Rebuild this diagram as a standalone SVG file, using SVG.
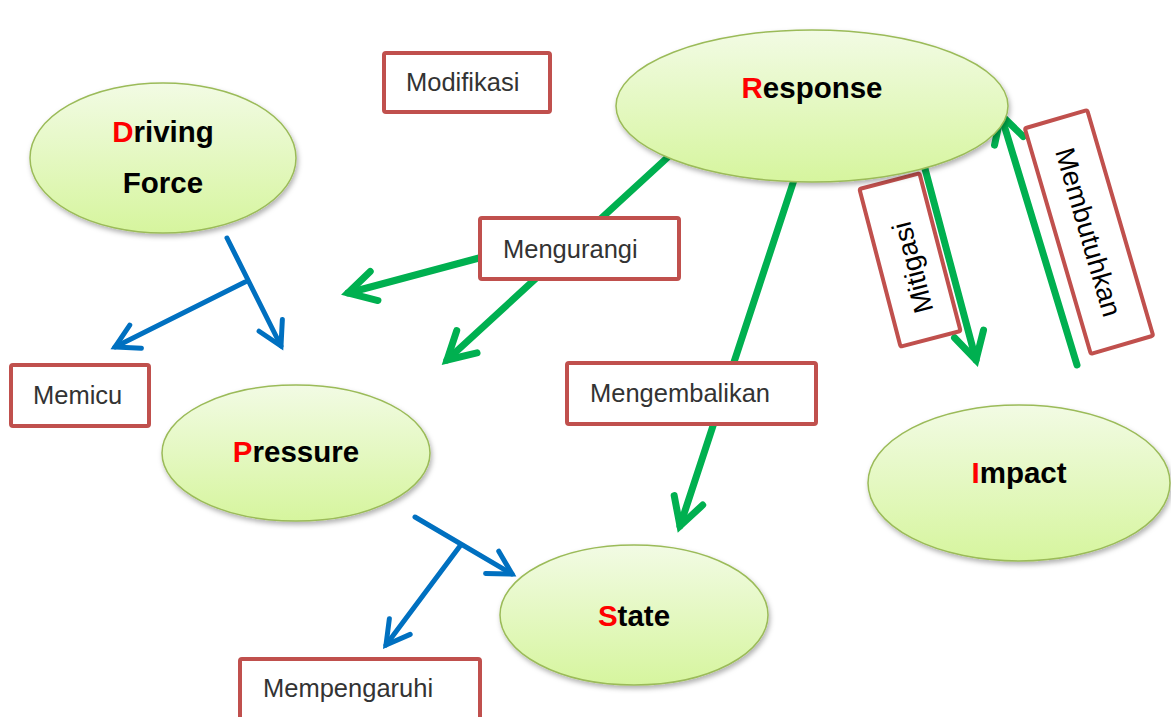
<svg xmlns="http://www.w3.org/2000/svg" width="1171" height="717" viewBox="0 0 1171 717">
<style>
.node{fill:url(#eg);stroke:#9BBB59;stroke-width:1.5;filter:url(#sh)}
.nt{font-family:"Liberation Sans",Arial,sans-serif;font-weight:bold;font-size:29.5px;fill:#000;text-anchor:middle}
.r{fill:#FF0000}
.box{fill:#fff;stroke:#C0504D;stroke-width:4}
.bt{font-family:"Liberation Sans",Arial,sans-serif;font-size:25.5px;fill:#333}
.rt{font-family:"Liberation Sans",Arial,sans-serif;font-size:27.5px;fill:#000;text-anchor:middle}
.blue{stroke:#0070C0;stroke-width:5;fill:none;stroke-linecap:round;marker-end:url(#ab)}
.green{stroke:#00B050;stroke-width:7;fill:none;stroke-linecap:round;marker-end:url(#ag)}
</style>
<defs>
<linearGradient id="eg" x1="0" y1="0" x2="0" y2="1">
<stop offset="0" stop-color="#F2FBE4"/>
<stop offset="1" stop-color="#D6F59E"/>
</linearGradient>
<filter id="sh" x="-10%" y="-10%" width="125%" height="130%">
<feDropShadow dx="1.5" dy="3" stdDeviation="2.5" flood-color="#000" flood-opacity="0.3"/>
</filter>
<marker id="ab" markerUnits="userSpaceOnUse" orient="auto" refX="0" refY="0" markerWidth="40" markerHeight="40" overflow="visible">
<path d="M-23,-13 L0,0 L-23,13" fill="none" stroke="#0070C0" stroke-width="5" stroke-linecap="round" stroke-linejoin="miter"/>
</marker>
<marker id="ag" markerUnits="userSpaceOnUse" orient="auto" refX="0" refY="0" markerWidth="50" markerHeight="50" overflow="visible">
<path d="M-27,-15 L0,0 L-27,15" fill="none" stroke="#00B050" stroke-width="7" stroke-linecap="round" stroke-linejoin="miter"/>
</marker>
</defs>
<rect width="1171" height="717" fill="#fff"/>

<g id="connectors">
<line class="blue" x1="227" y1="238" x2="281" y2="346"/>
<line class="blue" x1="245" y1="282" x2="115" y2="347"/>
<line class="blue" x1="415" y1="517" x2="512" y2="574"/>
<line class="blue" x1="460" y1="546" x2="386" y2="645"/>
<line class="green" x1="668" y1="157" x2="447" y2="360"/>
<line class="green" x1="479" y1="258" x2="348" y2="293"/>
<line class="green" x1="794" y1="180" x2="680" y2="526"/>
<line class="green" x1="924" y1="165" x2="976" y2="360"/>
<line class="green" x1="1077" y1="365" x2="1001" y2="115"/>
</g>

<g id="label-modifikasi"><rect class="box" x="384" y="53" width="166" height="59" rx="2"/><text class="bt" x="406" y="91">Modifikasi</text></g>
<g id="label-memicu"><rect class="box" x="11" y="365" width="138" height="61" rx="2"/><text class="bt" x="33" y="404">Memicu</text></g>
<g id="label-mengurangi"><rect class="box" x="480" y="218" width="199" height="61" rx="2"/><text class="bt" x="503" y="258">Mengurangi</text></g>
<g id="label-mengembalikan"><rect class="box" x="567" y="363" width="249" height="61" rx="2"/><text class="bt" x="590" y="402">Mengembalikan</text></g>
<g id="label-mempengaruhi"><rect class="box" x="240" y="659" width="240" height="70" rx="2"/><text class="bt" x="263" y="697">Mempengaruhi</text></g>
<g id="label-mitigasi" transform="translate(910,260) rotate(-14.6)"><rect class="box" x="-31" y="-81.5" width="62" height="163" rx="2"/><text class="rt" transform="rotate(-90)" x="-8" y="10">Mitigasi</text></g>
<g id="label-membutuhkan" transform="translate(1089,232) rotate(-16.3)"><rect class="box" x="-32.5" y="-117.5" width="65" height="235" rx="2"/><text class="rt" transform="rotate(90)" x="0" y="10">Membutuhkan</text></g>

<g id="node-driving-force"><ellipse class="node" cx="163" cy="158" rx="133" ry="75"/><text class="nt" x="163" y="142"><tspan class="r">D</tspan>riving</text><text class="nt" x="163" y="193">Force</text></g>
<g id="node-response"><ellipse class="node" cx="812" cy="106" rx="196" ry="76"/><text class="nt" x="812" y="98"><tspan class="r">R</tspan>esponse</text></g>
<g id="node-pressure"><ellipse class="node" cx="296" cy="453" rx="134" ry="68"/><text class="nt" x="296" y="462"><tspan class="r">P</tspan>ressure</text></g>
<g id="node-state"><ellipse class="node" cx="634" cy="615" rx="134" ry="70"/><text class="nt" x="634" y="626"><tspan class="r">S</tspan>tate</text></g>
<g id="node-impact"><ellipse class="node" cx="1019" cy="483" rx="151" ry="78"/><text class="nt" x="1019" y="483"><tspan class="r">I</tspan>mpact</text></g>
</svg>
